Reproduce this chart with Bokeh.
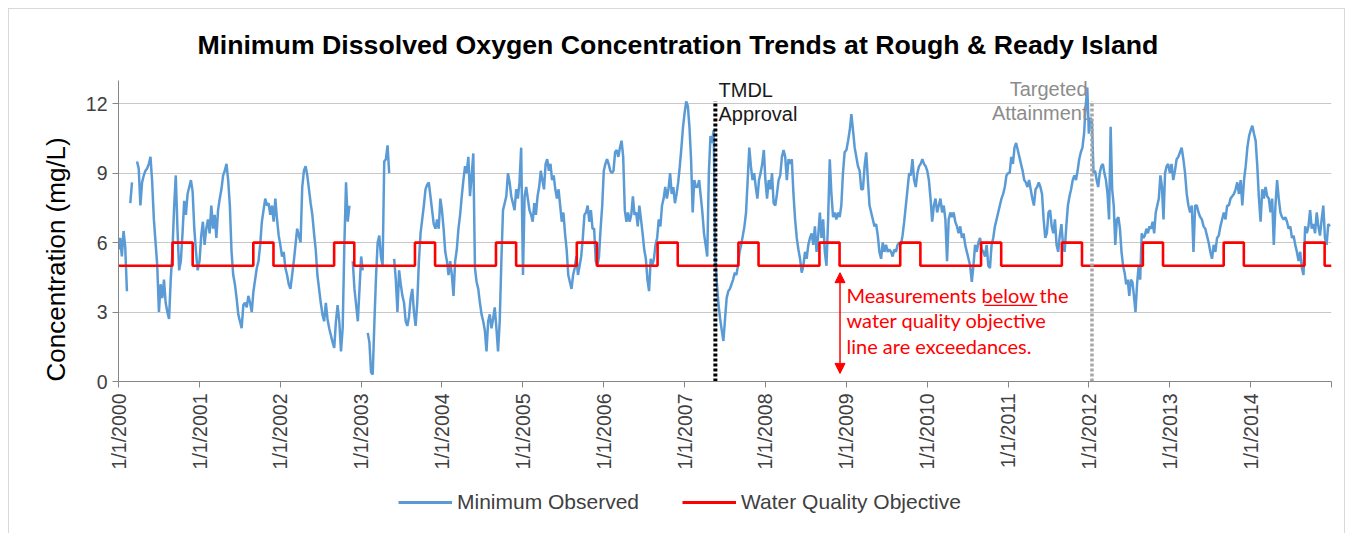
import math
import pandas as pd
from bokeh.plotting import figure
from bokeh.layouts import column
from bokeh.models import (Range1d, FixedTicker, CustomJSTickFormatter, Label, Legend, Title,
                          LegendItem, Arrow, NormalHead, ColumnDataSource)
from bokeh.embed import file_html
from bokeh.resources import INLINE

nan = float("nan")

# ---- Minimum observed DO (mg/L), roughly weekly per year ----
obs_2000 = [5.7, 6.2, 5.4, 6.5, 5.8, 3.9, nan, 7.7, 8.6, nan, nan, 9.5, 9.2, 7.6, 8.6, 8.9, 9.1, 9.2, 9.4, 9.7,
            8.6, 7.0, 6.0, 5.0, 3.0, 4.2, 3.6, 4.4, 3.4, 3.0, 2.7, 4.4, 5.6, 7.5, 8.9, 6.6, 4.8, 5.2, 6.4, 7.8,
            7.2, 8.1, 8.4, 8.7, 8.2, 6.6, 5.6, 4.8]
obs_2001 = [5.2, 6.3, 6.9, 5.9, 6.6, 7.0, 6.4, 7.6, 6.6, 7.2, 6.2, 7.4, 7.9, 8.3, 8.9, 9.1, 9.4, 8.7, 7.6, 5.6,
            4.6, 4.2, 3.6, 2.9, 2.6, 2.3, 3.3, 3.4, 3.2, 3.7, 3.4, 3.0, 3.9, 4.4, 4.9, 5.2, 5.9, 6.9, 7.4, 7.9,
            7.6, 7.7, 7.2, 7.6, 6.9, 7.9, 7.0, 6.3]
obs_2002 = [5.9, 5.4, 5.6, 4.9, 4.6, 4.2, 4.0, 4.6, 5.2, 5.9, 6.6, 6.3, 6.0, 8.4, 9.1, 9.3, 8.9, 8.3, 7.7, 7.2,
            6.4, 5.7, 4.6, 4.0, 3.4, 2.9, 2.6, 3.4, 2.7, 2.3, 2.0, 1.7, 1.45, 2.6, 3.3, 2.6, 1.3, 2.3, 5.9, 8.6,
            6.9, 7.6, nan, 5.2, 4.0, 3.3, 2.6, 4.0]
obs_2003 = [5.4, 4.8, nan, nan, 2.1, 1.7, 0.4, 0.3, 2.5, 4.5, 6.0, 6.3, 5.4, 5.0, 9.5, 9.6, 10.2, 9.0, nan, nan,
            5.3, 4.4, 3.0, 4.8, 4.2, 3.7, 3.4, 2.6, 2.4, 2.8, 3.6, 4.0, 3.0, 2.4, 3.4, 5.2, 6.4, 7.0, 7.6, 8.3,
            8.5, 8.6, 8.0, 7.4, 6.8, 6.6, 7.0, 6.6, 7.9]
obs_2004 = [7.4, 6.6, 5.6, 5.2, 4.6, 5.2, 4.6, 3.7, 5.2, 5.7, 6.6, 7.2, 8.0, 8.7, 9.3, 9.0, 9.7, 8.0, 8.9, 9.85,
            4.9, 4.3, 4.0, 3.4, 2.9, 2.6, 2.2, 1.3, 2.6, 2.9, 2.3, 2.7, 3.2, 2.3, 1.3, 2.6, 5.2, 7.4, 7.7, 8.0,
            9.0, 8.6, 8.0, 7.7, 7.4, 8.3, 7.9, 8.6, 10.1]
obs_2005 = [4.6, 8.0, 8.4, 7.9, 7.4, 7.2, 6.9, 7.7, 7.2, 8.0, 8.4, 9.1, 8.7, 8.3, 9.4, 9.6, 9.1, 9.4, 8.7, 8.9,
            8.3, 7.9, 8.3, 7.6, 6.9, 7.3, 6.4, 5.7, 4.6, 4.3, 4.0, 4.6, 4.9, 5.4, 4.6, 5.0, 5.4, 6.2, 7.2, 7.3,
            7.6, 6.9, 7.4, 6.6, 6.6, 5.2, 5.0, 5.4, 6.6, 7.6]
obs_2006 = [9.1, 9.4, 9.6, 9.4, 9.1, 9.0, 9.1, 9.9, 10.0, 9.7, 10.1, 10.4, 9.7, 7.4, 6.9, 7.3, 6.9, 7.2, 8.0, 7.2,
            7.3, 6.7, 7.6, 7.0, 6.4, 5.7, 5.3, 4.4, 3.9, 5.3, 5.0, 5.3, 5.9, 6.2, 7.0, 6.7, 7.6, 7.9, 8.4, 7.9,
            8.3, 9.0, 8.1, 8.4, 7.7, 8.1, 8.6, 9.3, 10.1, 11.0]
obs_2007 = [11.6, 12.1, 11.9, 11.0, 9.6, 7.3, 8.7, 8.4, 8.4, 8.7, 8.0, 7.3, 6.4, 5.9, 5.4, 9.0, 10.6, 10.3, 10.85, 5.3,
            4.2, 3.3, 2.7, 2.2, 1.75, 2.7, 3.6, 3.9, 4.0, 4.2, 4.4, 4.7, 4.6, 5.0, 5.6, 5.9, 6.3, 6.7, 7.3, 8.7,
            10.1, 9.3, 8.7, 9.0, 8.4, 7.9, 8.7, 9.0, 9.4, 10.0]
obs_2008 = [8.7, 7.9, 8.7, 8.3, 9.0, 7.7, 7.6, 8.1, 8.7, 8.9, 9.7, 10.0, 9.7, 8.7, 9.6, 9.4, 9.6, 8.1, 7.0, 6.2,
            5.7, 5.3, 4.7, 5.0, 5.6, 5.3, 5.9, 6.2, 6.4, 5.9, 6.7, 5.6, 6.3, 7.3, 6.2, 7.0, 5.6, 5.0, 7.0, 9.6,
            8.1, 7.1, 7.3, 7.0, 7.3, 7.1, 7.6, 9.0, 9.9]
obs_2009 = [10.0, 10.4, 10.85, 11.55, 10.85, 10.1, 9.7, 9.3, 9.1, 8.3, 8.3, 9.3, 9.9, 8.7, 7.6, 7.3, 7.0, 6.7, 6.8, 6.3,
            5.6, 5.3, 6.0, 5.6, 5.9, 5.6, 5.7, 5.6, 5.4, 5.7, 5.6, 5.9, 6.0, 5.9, 6.3, 6.9, 7.6, 8.3, 9.0, 8.9,
            9.6, 8.7, 8.4, 9.0, 9.3, 9.4, 9.6, 9.4, 9.3]
obs_2010 = [9.1, 8.7, 7.9, 6.9, 7.6, 7.9, 7.3, 7.6, 7.9, 7.3, 7.6, 7.0, 5.2, 7.0, 7.3, 7.1, 7.3, 6.9, 6.7, 6.4,
            6.7, 6.2, 6.4, 5.9, 5.6, 5.3, 5.0, 4.3, 5.0, 5.9, 5.6, 6.0, 6.2, 5.7, 5.6, 5.4, 5.9, 5.0, 4.9, 5.9,
            6.2, 6.7, 7.0, 7.3, 7.6, 7.9, 8.1, 8.4, 8.9]
obs_2011 = [9.0, 9.0, 9.7, 9.4, 10.1, 10.3, 10.0, 9.7, 9.4, 9.1, 8.7, 8.6, 8.4, 8.7, 8.3, 7.9, 7.6, 8.3, 8.4, 8.6,
            8.4, 8.1, 7.0, 6.2, 6.4, 7.3, 7.4, 6.7, 6.4, 7.0, 5.9, 5.6, 6.3, 6.8, 5.9, 5.6, 6.7, 7.6, 8.0, 8.3,
            8.7, 8.9, 8.7, 9.1, 9.6, 9.9, 10.1, 10.7, 11.9, 12.7]
obs_2012 = [10.7, 11.4, 11.2, 9.0, 9.1, 8.7, 8.4, 9.0, 9.3, 9.4, 9.0, 8.7, 8.1, 7.0, 11.0, 8.3, 7.6, 5.9, 7.0, 7.1,
            6.6, 5.6, 5.0, 4.7, 4.2, 4.4, 3.7, 4.4, 4.3, 3.7, 3.0, 4.2, 5.0, 4.4, 6.4, 6.2, 6.3, 6.6, 6.4, 6.7,
            6.6, 6.9, 6.4, 7.3, 7.6, 7.9, 8.9, 8.4, 7.0, 9.0, 9.3, 9.4]
obs_2013 = [9.0, 9.4, 8.7, 9.1, 9.6, 9.7, 9.9, 10.1, 9.6, 9.0, 8.1, 7.6, 7.3, 7.6, 5.6, 7.6, 7.6, 7.3, 7.1, 7.0,
            6.7, 6.6, 6.3, 6.0, 5.6, 5.3, 5.9, 5.6, 6.2, 6.3, 6.7, 7.0, 7.3, 7.0, 7.6, 7.6, 7.9, 8.0, 8.1, 8.3,
            8.6, 8.1, 8.7, 7.6, 8.7, 9.3, 10.1, 10.6]
obs_2014 = [10.85, 11.05, 10.7, 10.4, 9.3, 7.9, 6.9, 8.3, 7.9, 8.4, 8.0, 7.9, 7.3, 7.9, 5.9, 7.6, 8.7, 7.9, 7.3, 7.1,
            7.0, 7.1, 6.9, 6.6, 6.7, 6.2, 6.3, 5.9, 5.6, 5.2, 5.6, 4.9, 4.6, 6.7, 6.4, 6.7, 7.4, 6.6, 6.8, 6.4,
            7.3, 6.7, 6.3, 7.0, 7.6, 6.2, 5.9, 6.8, 6.7]

observed_by_year = {2000: obs_2000, 2001: obs_2001, 2002: obs_2002, 2003: obs_2003, 2004: obs_2004,
                    2005: obs_2005, 2006: obs_2006, 2007: obs_2007, 2008: obs_2008, 2009: obs_2009,
                    2010: obs_2010, 2011: obs_2011, 2012: obs_2012, 2013: obs_2013, 2014: obs_2014}

# ---- Water quality objective (mg/L): 6 from Sep 1 to Nov 30, otherwise 5 ----
wqo_years = list(range(2000, 2015))
wqo_base = 5.0
wqo_fall = 6.0
wqo_fall_start = "09-01"
wqo_fall_end = "12-01"

# ---- axis ----
tick_years = list(range(2000, 2016))
y_ticks = [0, 3, 6, 9, 12]

# ---- annotation anchors ----
tmdl_date = "2007-05-20"
target_date = "2012-01-15"
marker_top = 12.1
arrow_date = "2008-12-03"
arrow_top = 4.7
arrow_bottom = 0.35
underline_start = "2010-09-16"
underline_end = "2011-05-13"
underline_y = 3.29

BLUE = "#5B9BD5"
RED = "#FF0000"


def ms(d):
    return pd.Timestamp(d).value / 1e6


obs_x, obs_y = [], []
for yr, vals in observed_by_year.items():
    start = pd.Timestamp(f"{yr}-01-01")
    n = len(vals)
    for i, v in enumerate(vals):
        obs_x.append(start + pd.Timedelta(days=i * 365.25 / n))
        obs_y.append(v)

wqo_x, wqo_y = [], []
for yr in wqo_years:
    for d, v in [("01-01", wqo_base), (wqo_fall_start, wqo_base), (wqo_fall_start, wqo_fall),
                 (wqo_fall_end, wqo_fall), (wqo_fall_end, wqo_base)]:
        wqo_x.append(pd.Timestamp(f"{yr}-{d}"))
        wqo_y.append(v)
wqo_x.append(pd.Timestamp(f"{wqo_years[-1] + 1}-01-01"))
wqo_y.append(wqo_base)

FONT = "Liberation Sans"

p = figure(width=1346, height=472, x_axis_type="datetime",
           x_range=Range1d(ms("2000-01-01"), ms("2015-01-01")), y_range=Range1d(0, 13),
           output_backend="svg", toolbar_location=None,
           min_border_left=118, min_border_right=15, min_border_top=80, min_border_bottom=88)
p.outline_line_color = None
p.background_fill_color = "white"
p.border_fill_color = None

# title
p.title.text = "Minimum Dissolved Oxygen Concentration Trends at Rough & Ready Island"
p.title.align = "left"
p.title.offset = 79
p.title.text_font = FONT
p.title.text_font_size = "26.7px"
p.title.text_font_style = "bold"
p.title.text_color = "black"
p.title.standoff = 42

p.xaxis.ticker = FixedTicker(ticks=[ms(f"{y}-01-01") for y in tick_years])
p.xaxis.formatter = CustomJSTickFormatter(
    code="const y = new Date(tick).getUTCFullYear(); return y >= 2015 ? '' : '1/1/' + y;")
p.xaxis.major_label_orientation = math.pi / 2
p.yaxis.ticker = FixedTicker(ticks=y_ticks)
for ax in (p.xaxis, p.yaxis):
    ax.major_label_text_font = FONT
    ax.major_label_text_font_size = "19.5px"
    ax.major_label_text_color = "#404040"
    ax.axis_line_color = "#868686"
    ax.major_tick_line_color = "#868686"
    ax.major_tick_out = 6
    ax.major_tick_in = 0
    ax.minor_tick_line_color = None
p.xaxis.major_label_standoff = 6
p.yaxis.major_label_standoff = 5
p.xgrid.grid_line_color = None
p.ygrid.grid_line_color = "#c8c8c8"
p.ygrid.grid_line_width = 1.2

# y axis title as a left-side title
ytitle = Title(text="Concentration (mg/L)", align="left", offset=0, text_font=FONT,
               text_font_size="26px", text_font_style="normal", text_color="black", standoff=23)
p.add_layout(ytitle, "left")

src = ColumnDataSource(dict(x=obs_x, y=obs_y))
p.line("x", "y", source=src, line_color=BLUE, line_width=2.5)
p.line(wqo_x, wqo_y, line_color=RED, line_width=2.6)

p.line([pd.Timestamp(tmdl_date)] * 2, [0, marker_top], line_color="black", line_width=4, line_dash="3 2")
p.line([pd.Timestamp(target_date)] * 2, [0, marker_top], line_color="#a6a6a6", line_width=3.5, line_dash="3 2")

p.add_layout(Arrow(x_start=ms(arrow_date), y_start=arrow_top, x_end=ms(arrow_date), y_end=arrow_bottom,
                   line_color=RED, line_width=1.5,
                   start=NormalHead(size=10, fill_color=RED, line_color=RED),
                   end=NormalHead(size=10, fill_color=RED, line_color=RED)))


# texts inside the frame (screen units relative to the frame's bottom-left)
def lab(text, x, y, size, color="black", align="left", font=FONT):
    p.add_layout(Label(text=text, x=x, y=y, x_units="screen", y_units="screen",
                       text_font=font, text_font_size=size, text_color=color, text_align=align,
                       text_baseline="middle"))


lab("TMDL", 600, 292, "20px", color="#1a1a1a")
lab("Approval", 600, 268, "20px", color="#1a1a1a")
lab("Targeted", 969, 293, "20px", color="#8c8c8c", align="right")
lab("Attainment", 969, 269, "20px", color="#8c8c8c", align="right")
RED_FONT = "Lato"
lab("Measurements below the", 728, 87, "20px", color=RED, font=RED_FONT)
lab("water quality objective", 728, 62, "20px", color=RED, font=RED_FONT)
lab("line are exceedances.", 728, 36, "20px", color=RED, font=RED_FONT)

# underline under "below"
p.line([pd.Timestamp(underline_start), pd.Timestamp(underline_end)], [underline_y, underline_y],
       line_color=RED, line_width=1.2)

# ---- legend strip below the chart (its frame is aligned with the chart's frame) ----
leg = figure(width=1346, height=61, x_range=Range1d(0, 1), y_range=Range1d(0, 1),
             output_backend="svg", toolbar_location=None, x_axis_location=None, y_axis_location=None,
             min_border=0)
leg.outline_line_color = None
leg.border_fill_color = None
leg.grid.visible = False
lb = leg.line([5, 6], [5, 6], line_color=BLUE, line_width=2.8)
lr = leg.line([5, 6], [5, 6], line_color=RED, line_width=2.8)
legend = Legend(items=[LegendItem(label="Minimum Observed", renderers=[lb]),
                       LegendItem(label="Water Quality Objective", renderers=[lr])],
                orientation="horizontal", location=(280, 19),
                glyph_width=54, glyph_height=20, label_standoff=5, spacing=43,
                padding=0, margin=0, border_line_color=None, background_fill_alpha=0,
                label_text_font=FONT, label_text_font_size="21px", label_text_color="#404040")
leg.add_layout(legend)

# light chart-area border (left, top and right edges) drawn as the page background
g = "linear-gradient(#d9d9d9,#d9d9d9)"
border_bg = (f"{g} 8px 8px / 1px 100% no-repeat, {g} 8px 8px / 1337px 1px no-repeat, "
             f"{g} 1344px 8px / 1px 100% no-repeat, white")
layout = column(p, leg, spacing=0, styles={"background": border_bg})
open("out.html", "w").write(file_html(layout, INLINE))
